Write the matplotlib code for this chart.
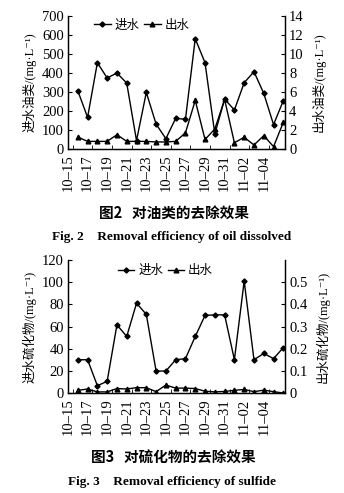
import numpy as np
import matplotlib.pyplot as plt
from matplotlib.lines import Line2D

plt.rcParams.update({
    "font.family": ["Liberation Serif", "Noto Sans CJK SC", "DejaVu Sans"],
    "font.size": 10,
    "axes.linewidth": 0.9,
    "lines.linewidth": 1.0,
})

dates = ["10–15", "10–16", "10–17", "10–18", "10–19", "10–20", "10–21", "10–22",
         "10–23", "10–24", "10–25", "10–26", "10–27", "10–28", "10–29", "10–30",
         "10–31", "11–01", "11–02", "11–03", "11–04", "11–05"]

# oil (mg/L)
oil_in = [306, 166, 453, 373, 399, 346, 44, 297, 131, 54, 161, 156,
          579, 453, 79, 262, 205, 348, 406, 292, 128, 254]
oil_out = [1.26, 0.8, 0.8, 0.8, 1.5, 0.8, 0.8, 0.8, 0.74, 0.74, 0.8, 1.7,
           5.1, 1.0, 2.1, 5.2, 0.66, 1.23, 0.42, 1.4, 0.25, 2.8]

# sulfide (mg/L)
sul_in = [30, 30, 6.6, 10.5, 61.5, 51, 81, 71, 19.8, 19.8, 30, 31,
          51, 70, 70.5, 70.5, 30, 101, 30, 35.7, 31, 41]
sul_out = [0.012, 0.018, 0.005, 0.005, 0.02, 0.018, 0.024, 0.024, 0.006, 0.036, 0.022, 0.022,
           0.02, 0.008, 0.005, 0.007, 0.012, 0.016, 0.006, 0.013, 0.006, 0.0]

x = np.arange(len(dates)) + 1.0
label_pos = np.arange(0, len(dates), 2)
serif = ["Liberation Serif", "Noto Sans CJK SC", "DejaVu Sans"]


def panel(rect, yin, yout, lmax, lstep, rmax, rticks, rfmt, llabel, rlabel, leg_xy):
    ax = fig.add_axes(rect)
    ax2 = ax.twinx()
    ax.plot(x, yin, color="k", marker="D", ms=2.6, lw=1.0, zorder=3)
    ax2.plot(x, yout, color="k", marker="^", ms=3.4, lw=1.0, zorder=3)

    ax.set_xlim(0.5, 22.17)
    ax.set_ylim(0, lmax)
    ax.set_yticks(np.arange(0, lmax + 1e-9, lstep))
    ax2.set_ylim(0, rmax)
    ax2.set_yticks(rticks)
    ax2.set_yticklabels([rfmt(v) for v in rticks])

    ax.set_xticks(label_pos)
    ax.set_xticklabels([dates[i] for i in label_pos], rotation=90, fontsize=10.5)
    ax.set_xticks(np.arange(0.5, 22, 2), minor=True)
    ax.tick_params(axis="x", which="major", length=0, pad=4)
    ax.tick_params(axis="x", which="minor", direction="in", length=3)
    ax.tick_params(axis="y", direction="in", length=3, labelsize=10.5, pad=3)
    ax2.tick_params(axis="y", direction="in", length=3, labelsize=10.5, pad=3)

    for a in (ax, ax2):
        a.spines["top"].set_visible(False)

    ax.set_ylabel(llabel, fontsize=9, family=serif, labelpad=4)
    ax2.set_ylabel(rlabel, fontsize=9, family=serif, labelpad=6)

    handles = [Line2D([], [], color="k", marker="D", ms=2.6, lw=1.0),
               Line2D([], [], color="k", marker="^", ms=3.4, lw=1.0)]
    ax.legend(handles, ["进水", "出水"], loc="center", bbox_to_anchor=leg_xy,
              ncol=2, frameon=False, handlelength=1.3, handletextpad=0.3,
              columnspacing=0.4, prop={"family": ["Noto Sans CJK SC"], "size": 9})
    return ax


fig = plt.figure(figsize=(3.44, 4.93), dpi=100)

panel([68 / 344, 1 - 149 / 493, 217 / 344, 133.3 / 493], oil_in, oil_out,
      700, 100, 14, list(range(0, 15, 2)), lambda v: f"{v:d}",
      "进水油类/(mg·L⁻¹)", "出水油类/(mg·L⁻¹)", (0.34, 0.93))

panel([68 / 344, 1 - 393 / 493, 217 / 344, 133 / 493], sul_in, sul_out,
      120, 20, 0.6, [0, 0.1, 0.2, 0.3, 0.4, 0.5], lambda v: "0" if v == 0 else f"{v:.1f}",
      "进水硫化物/(mg·L⁻¹)", "出水硫化物/(mg·L⁻¹)", (0.45, 0.92))

cjk_bold = {"family": ["Noto Sans CJK SC"], "weight": "bold", "size": 10.5}
fig.text(0.505, 1 - 214 / 493, "图2   对油类的去除效果", ha="center", va="center", **cjk_bold)
fig.text(0.5, 1 - 237 / 493, "Fig. 2    Removal efficiency of oil dissolved",
         ha="center", va="center", fontsize=9.5, weight="bold", family="Liberation Serif")
fig.text(0.505, 1 - 458 / 493, "图3   对硫化物的去除效果", ha="center", va="center", **cjk_bold)
fig.text(0.5, 1 - 482 / 493, "Fig. 3    Removal efficiency of sulfide",
         ha="center", va="center", fontsize=9.5, weight="bold", family="Liberation Serif")

fig.savefig("out.png", dpi=100)
